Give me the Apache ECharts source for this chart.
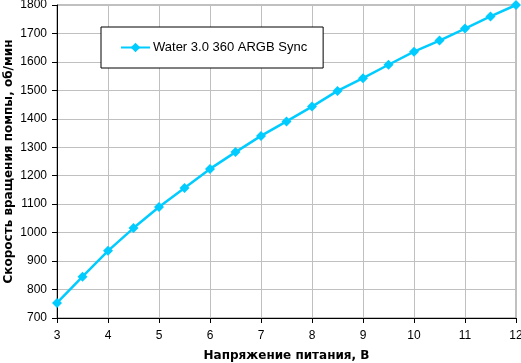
<!DOCTYPE html>
<html>
<head>
<meta charset="utf-8">
<script src="https://cdn.jsdelivr.net/npm/echarts@6/dist/echarts.min.js"></script>
<style>
  html, body { margin: 0; padding: 0; background: #fff; }
  #chart { width: 521px; height: 363px; }
</style>
</head>
<body>
<div id="chart"></div>
<script>
// напряжение, В
var voltage = [3, 3.5, 4, 4.5, 5, 5.5, 6, 6.5, 7, 7.5, 8, 8.5, 9, 9.5, 10, 10.5, 11, 11.5, 12]
// скорость помпы, об/мин
var rpm = [753, 845, 936, 1016, 1090, 1157, 1224, 1283, 1340, 1391, 1443, 1498, 1543, 1590, 1636, 1675, 1717, 1760, 1800]
var seriesName = 'Water 3.0 360 ARGB Sync'

var points = voltage.map(function (v, i) { return [v, rpm[i]] })

var chart = echarts.init(document.getElementById('chart'))
var font = 'Liberation Sans, Arial, sans-serif'
var titleFont = 'DejaVu Sans, sans-serif'

chart.setOption({
  backgroundColor: '#fff',
  animation: false,
  textStyle: { fontFamily: font },
  grid: {
    left: 57,
    right: 5,
    top: 5,
    bottom: 45,
    containLabel: false,
    outerBoundsMode: 'none',
    show: true,
    borderColor: '#808080',
    borderWidth: 1
  },
  legend: {
    left: 101,
    top: 27,
    padding: [14, 16, 14, 19],
    itemGap: 0,
    itemWidth: 29,
    itemHeight: 12,
    borderColor: '#000',
    borderWidth: 1,
    backgroundColor: '#fff',
    textStyle: { fontSize: 13, color: '#000', fontFamily: font, padding: [0, 0, 0, -2] },
    data: [seriesName]
  },
  xAxis: {
    type: 'value',
    min: 3,
    max: 12,
    interval: 1,
    name: 'Напряжение питания, В',
    nameLocation: 'middle',
    nameGap: 32,
    nameMoveOverlap: false,
    nameTextStyle: { fontWeight: 'bold', fontSize: 12, color: '#000', fontFamily: titleFont },
    axisLine: { lineStyle: { color: '#000', width: 1 } },
    axisTick: { show: true, length: 5, lineStyle: { color: '#000' } },
    axisLabel: { fontSize: 12, color: '#000', margin: 12 },
    splitLine: { show: true, lineStyle: { color: '#c0c0c0', width: 1 } }
  },
  yAxis: {
    type: 'value',
    min: 700,
    max: 1800,
    interval: 100,
    name: 'Скорость вращения помпы, об/мин',
    nameLocation: 'middle',
    nameGap: 42,
    nameMoveOverlap: false,
    nameTextStyle: { fontWeight: 'bold', fontSize: 12, color: '#000', fontFamily: titleFont },
    axisLine: { show: true, lineStyle: { color: '#000', width: 1 } },
    axisTick: { show: true, length: 5, lineStyle: { color: '#000' } },
    axisLabel: { fontSize: 12, color: '#000', margin: 10, formatter: function (v) { return String(v) } },
    splitLine: { show: true, lineStyle: { color: '#c0c0c0', width: 1 } }
  },
  series: [{
    name: seriesName,
    type: 'line',
    data: points,
    symbol: 'diamond',
    symbolSize: 10,
    lineStyle: { color: '#00ccff', width: 2.5 },
    itemStyle: { color: '#00ccff' },
    clip: false
  }]
})
</script>
</body>
</html>
